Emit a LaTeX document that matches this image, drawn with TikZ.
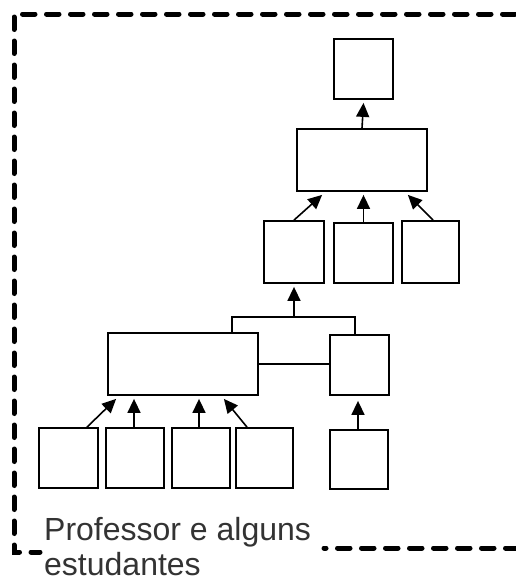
\documentclass[tikz,border=0pt]{standalone}
\usepackage{fontspec}
\setmainfont{Liberation Sans}
\usetikzlibrary{arrows.meta}
\begin{document}
\begin{tikzpicture}[x=1pt,y=-1pt,
  box/.style={draw=black,line width=1.8pt,fill=white,inner sep=0pt,minimum width=#1,minimum height=60pt},
  box/.default=59pt,
  link/.style={line width=1.6pt},
  arr/.style={line width=1.6pt,-{Triangle[width=13pt,length=14pt]}},
  frame/.style={line width=5pt,line cap=round,dash pattern=on 12.5pt off 11.5pt}
]
\useasboundingbox (0,0) rectangle (515,581);

% outer dashed boundary, open on the right
\draw[frame] (515,14) -- (14,14) -- (14,552) -- (40,552);
\draw[frame] (518,548) -- (324,548);

% tree of boxes
\node[box] (top) at (363.5,69) {};
\node[box=130pt,minimum height=62pt] (mid) at (362,160) {};
\node[box=60pt,minimum height=62pt] (A) at (294,252) {};
\node[box] (B) at (363.5,253) {};
\node[box=57pt,minimum height=62pt] (C) at (430.5,252) {};
\node[box=150pt,minimum height=62pt] (big) at (183,364) {};
\node[box] (small) at (359.5,365) {};
\node[box] (b1) at (68.5,458) {};
\node[box=58pt] (b2) at (135,458) {};
\node[box=58pt] (b3) at (201,458) {};
\node[box=57pt] (b4) at (264.5,458) {};
\node[box=58pt,minimum height=59pt] (b5) at (359,459.5) {};

% arrows
\draw[arr] (mid.north) -- ([yshift=-3pt]top.south);
\draw[arr] (A.north) -- ([xshift=26pt,yshift=-3pt]mid.south west);
\draw[arr] (B.north) -- ([yshift=-3pt]B.north |- mid.south);
\draw[arr] ([xshift=2.5pt]C.north) -- ([xshift=-20pt,yshift=-3pt]mid.south east);

\coordinate (j) at (294,317);
\draw[link] ([xshift=49pt]big.north) |- (j) -| ([xshift=-4.5pt]small.north);
\draw[arr] (j) -- ([yshift=-3pt]A.south);
\draw[link] (big.east) -- (big.east -| small.west);

\draw[arr] ([xshift=18.5pt]b1.north) -- ([xshift=9pt,yshift=-3pt]big.south west);
\draw[arr] ([xshift=-1pt]b2.north) -- ([xshift=-1pt,yshift=-3pt]b2.north |- big.south);
\draw[arr] ([xshift=-2pt]b3.north) -- ([xshift=-2pt,yshift=-3pt]b3.north |- big.south);
\draw[arr] ([xshift=-17.5pt]b4.north) -- ([xshift=-35pt,yshift=-3pt]big.south east);
\draw[arr] ([xshift=-1pt]b5.north) -- ([xshift=-1pt,yshift=-5pt]b5.north |- small.south);

% caption
\node[anchor=base west,inner sep=0pt,text=black!80,align=left,
      font=\fontsize{32}{35}\selectfont] (cap) at (44,575)
  {Professor e alguns\\estudantes};
\end{tikzpicture}
\end{document}
